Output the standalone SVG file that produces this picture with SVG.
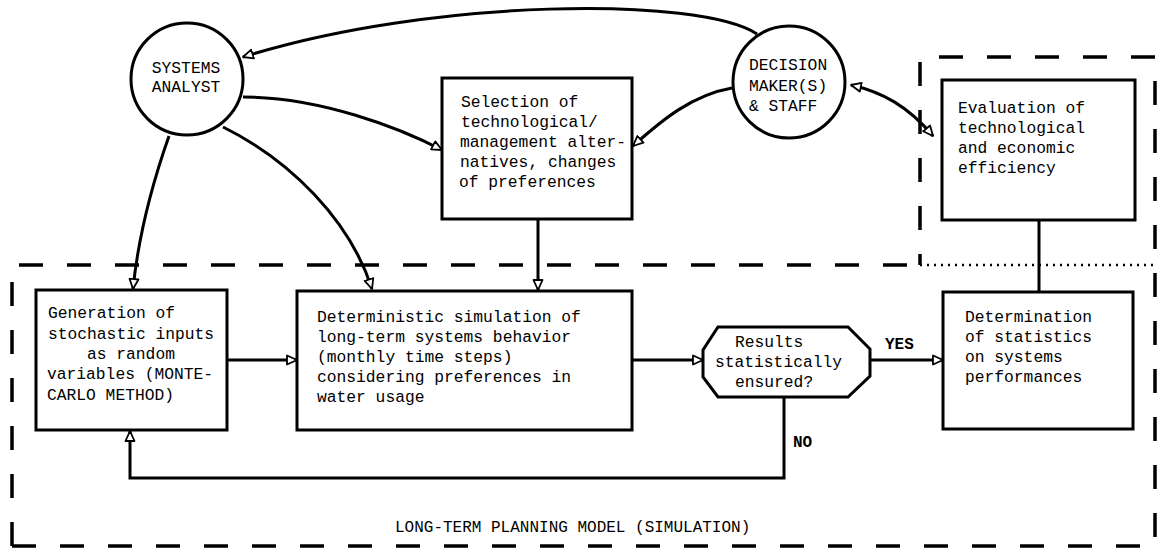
<svg xmlns="http://www.w3.org/2000/svg" width="1158" height="549" viewBox="0 0 1158 549">
  <style>
    .box { fill: #fff; stroke: #000; stroke-width: 3; }
    .node-text { font-family: "Liberation Mono", "Courier New", monospace; font-size: 16.3px; fill: #000; }
    .circle-text { font-family: "Liberation Mono", "Courier New", monospace; font-size: 16.3px; fill: #000; }
    .label { font-family: "Liberation Mono", "Courier New", monospace; font-size: 16px; fill: #000; }
    .yesno { font-weight: bold; }
    .conn { fill: none; stroke: #000; stroke-width: 3; }
    .dashed { fill: none; stroke: #000; stroke-width: 3.5; stroke-dasharray: 24 24; }
    .dotted { fill: none; stroke: #000; stroke-width: 2.5; stroke-dasharray: 2 5; }
  </style>
  <defs>
    <marker id="arrow" viewBox="0 0 12 12" refX="11" refY="6" markerWidth="12" markerHeight="12" markerUnits="userSpaceOnUse" orient="auto-start-reverse">
      <path d="M1,1.5 L11,6 L1,10.5 Z" fill="#fff" stroke="#000" stroke-width="1.8" stroke-linejoin="round"/>
    </marker>
  </defs>

  <rect width="1158" height="549" fill="#fff"/>

  <!-- model boundaries -->
  <g id="boundaries">
    <path class="dashed" d="M12 546 L12 265 L920 265"/>
    <path class="dashed" d="M12 546 L1155 546 L1155 57 L920 57 L920 265"/>
    <path class="dotted" d="M920 265 L1155 265"/>
    <text class="label" x="395" y="532">LONG-TERM PLANNING MODEL (SIMULATION)</text>
  </g>

  <!-- connectors -->
  <g id="connectors">
    <path class="conn" d="M757 34 C700 -4, 430 -2, 243 57" marker-end="url(#arrow)"/>
    <path class="conn" d="M243 97 C320 97, 400 128, 442 150" marker-end="url(#arrow)"/>
    <path class="conn" d="M732 88 C692 95, 662 120, 633 146" marker-end="url(#arrow)"/>
    <path class="conn" d="M933 136 C908 106, 882 92, 851 85" marker-start="url(#arrow)" marker-end="url(#arrow)"/>
    <path class="conn" d="M169 136 C150 190, 138 240, 133 289" marker-end="url(#arrow)"/>
    <path class="conn" d="M223 127 C290 160, 350 220, 372 289" marker-end="url(#arrow)"/>
    <path class="conn" d="M538 219 L538 290" marker-end="url(#arrow)"/>
    <path class="conn" d="M227 360 L297 360" marker-end="url(#arrow)"/>
    <path class="conn" d="M632 360 L703 360" marker-end="url(#arrow)"/>
    <path class="conn" d="M870 360 L943 360" marker-end="url(#arrow)"/>
    <path class="conn" d="M784 397 L784 478 L130 478 L130 431" marker-end="url(#arrow)"/>
    <path class="conn" d="M1039 220 L1039 292"/>
    <text class="label yesno" x="885" y="349">YES</text>
    <text class="label yesno" x="793" y="447">NO</text>
  </g>

  <g id="systems-analyst">
    <circle class="box" cx="187" cy="79" r="56"/>
    <text class="circle-text" x="186" y="73" text-anchor="middle">SYSTEMS</text>
    <text class="circle-text" x="186" y="92" text-anchor="middle">ANALYST</text>
  </g>

  <g id="decision-makers">
    <circle class="box" cx="789" cy="82" r="56"/>
    <text class="circle-text" x="749" y="70">DECISION</text>
    <text class="circle-text" x="749" y="91">MAKER(S)</text>
    <text class="circle-text" x="749" y="111">&amp; STAFF</text>
  </g>

  <g id="selection">
    <rect class="box" x="442" y="78" width="190" height="141"/>
    <text class="node-text" x="461" y="107">Selection of</text>
    <text class="node-text" x="461" y="127">technological/</text>
    <text class="node-text" x="460" y="147">management alter-</text>
    <text class="node-text" x="460" y="167">natives, changes</text>
    <text class="node-text" x="459" y="187">of preferences</text>
  </g>

  <g id="evaluation">
    <rect class="box" x="942" y="80" width="193" height="140"/>
    <text class="node-text" x="958" y="113">Evaluation of</text>
    <text class="node-text" x="958" y="133">technological</text>
    <text class="node-text" x="958" y="153">and economic</text>
    <text class="node-text" x="958" y="173">efficiency</text>
  </g>

  <g id="generation">
    <rect class="box" x="36" y="290" width="191" height="140"/>
    <text class="node-text" x="48" y="318">Generation of</text>
    <text class="node-text" x="48" y="339">stochastic inputs</text>
    <text class="node-text" x="87" y="359">as random</text>
    <text class="node-text" x="47" y="379">variables (MONTE-</text>
    <text class="node-text" x="47" y="400">CARLO METHOD)</text>
  </g>

  <g id="simulation">
    <rect class="box" x="297" y="291" width="335" height="139"/>
    <text class="node-text" x="317" y="322">Deterministic simulation of</text>
    <text class="node-text" x="317" y="342">long-term systems behavior</text>
    <text class="node-text" x="317" y="362">(monthly time steps)</text>
    <text class="node-text" x="317" y="382">considering preferences in</text>
    <text class="node-text" x="317" y="402">water usage</text>
  </g>

  <g id="decision">
    <polygon class="box" points="718,327 848,327 870,349 870,376 848,397 718,397 703,377 703,350"/>
    <text class="node-text" x="735" y="347">Results</text>
    <text class="node-text" x="715" y="367">statistically</text>
    <text class="node-text" x="735" y="387">ensured?</text>
  </g>

  <g id="statistics">
    <rect class="box" x="943" y="292" width="190" height="137"/>
    <text class="node-text" x="965" y="322">Determination</text>
    <text class="node-text" x="965" y="342">of statistics</text>
    <text class="node-text" x="965" y="362">on systems</text>
    <text class="node-text" x="965" y="382">performances</text>
  </g>
</svg>
